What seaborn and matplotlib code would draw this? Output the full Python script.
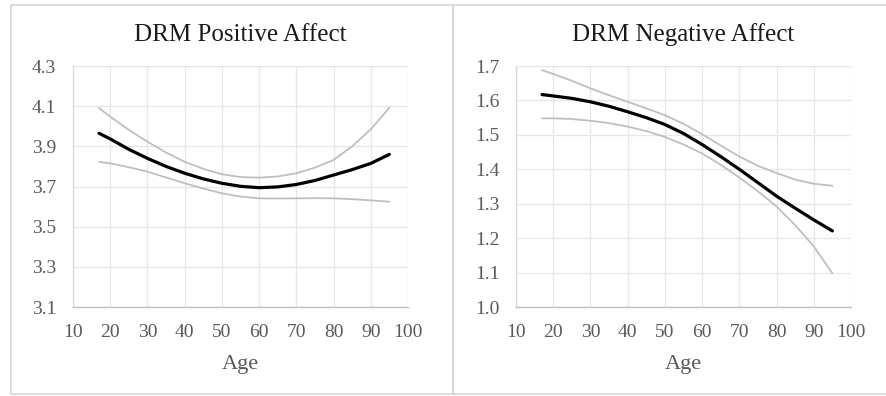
import matplotlib
matplotlib.use("Agg")
import matplotlib.pyplot as plt
from matplotlib.patches import Rectangle
import seaborn as sns
import pandas as pd

ages = [17, 20, 25, 30, 35, 40, 45, 50, 55, 60, 65, 70, 75, 80, 85, 90, 95]

pos_mean = [3.965, 3.937, 3.885, 3.840, 3.800, 3.766, 3.738, 3.716, 3.701, 3.694,
            3.698, 3.710, 3.730, 3.757, 3.784, 3.815, 3.860]
pos_upper = [4.090, 4.048, 3.982, 3.923, 3.869, 3.823, 3.788, 3.761, 3.747, 3.744,
             3.750, 3.766, 3.794, 3.832, 3.900, 3.985, 4.092]
pos_lower = [3.823, 3.815, 3.796, 3.774, 3.745, 3.716, 3.690, 3.666, 3.650, 3.641,
             3.640, 3.641, 3.642, 3.641, 3.637, 3.631, 3.624]

neg_mean = [1.617, 1.613, 1.606, 1.596, 1.583, 1.567, 1.550, 1.530, 1.504, 1.472,
            1.437, 1.400, 1.361, 1.322, 1.287, 1.253, 1.221]
neg_upper = [1.688, 1.677, 1.657, 1.635, 1.615, 1.596, 1.577, 1.557, 1.532, 1.502,
             1.469, 1.437, 1.410, 1.389, 1.370, 1.358, 1.352]
neg_lower = [1.548, 1.548, 1.546, 1.541, 1.534, 1.524, 1.511, 1.494, 1.472, 1.446,
             1.413, 1.376, 1.336, 1.292, 1.238, 1.176, 1.098]

titles = ["DRM Positive Affect", "DRM Negative Affect"]
x_ticks = [10, 20, 30, 40, 50, 60, 70, 80, 90, 100]
pos_yticks = [3.1, 3.3, 3.5, 3.7, 3.9, 4.1, 4.3]
neg_yticks = [1.0, 1.1, 1.2, 1.3, 1.4, 1.5, 1.6, 1.7]
x_label = "Age"

sns.set_style("white")
plt.rcParams['font.family'] = ['Liberation Serif', 'DejaVu Serif']

W, H = 886, 396
fig = plt.figure(figsize=(W / 100, H / 100), dpi=100)

def fx(px):
    return px / W

def fy(py):
    return 1 - py / H

# panel frames
frame_col = "#d6d6d6"
fig.add_artist(Rectangle((fx(11), fy(394)), fx(453 - 11), (394 - 5) / H,
                         transform=fig.transFigure, fill=False, edgecolor=frame_col, lw=1.2))
fig.add_artist(Rectangle((fx(453), fy(394)), fx(900 - 453), (394 - 5) / H,
                         transform=fig.transFigure, fill=False, edgecolor=frame_col, lw=1.2))

panels = [
    (73, pos_mean, pos_upper, pos_lower, pos_yticks),
    (516, neg_mean, neg_upper, neg_lower, neg_yticks),
]

for i, (left_px, m, u, l, yt) in enumerate(panels):
    ax = fig.add_axes([fx(left_px), fy(307), fx(335), 241 / H])
    df = pd.DataFrame({"age": ages, "mean": m, "upper": u, "lower": l})
    sns.lineplot(data=df, x="age", y="upper", ax=ax, color="#bfbfbf", lw=1.3)
    sns.lineplot(data=df, x="age", y="lower", ax=ax, color="#bfbfbf", lw=1.3)
    sns.lineplot(data=df, x="age", y="mean", ax=ax, color="black", lw=2.3)
    ax.set_xlim(10, 100)
    ax.set_ylim(yt[0], yt[-1])
    ax.set_xticks(x_ticks)
    ax.set_yticks(yt)
    ax.set_yticklabels(["{:.1f}".format(v) for v in yt])
    ax.grid(True, color="#e6e6e6", lw=0.9)
    ax.set_axisbelow(True)
    for s in ["top", "right"]:
        ax.spines[s].set_visible(False)
    ax.spines["left"].set_color("#d9d9d9")
    ax.spines["bottom"].set_color("#bfbfbf")
    ax.spines["left"].set_linewidth(0.9)
    ax.spines["bottom"].set_linewidth(1.0)
    ax.tick_params(axis="both", length=0, labelsize=14, colors="#595959")
    ax.tick_params(axis="x", pad=12)
    ax.tick_params(axis="y", pad=12)
    ax.set_xlabel(x_label, fontsize=16, color="#595959", labelpad=10)
    ax.set_ylabel("")
    ax.set_title(titles[i], fontsize=18, color="#1a1a1a", pad=18)

fig.savefig("out.png", dpi=100)
